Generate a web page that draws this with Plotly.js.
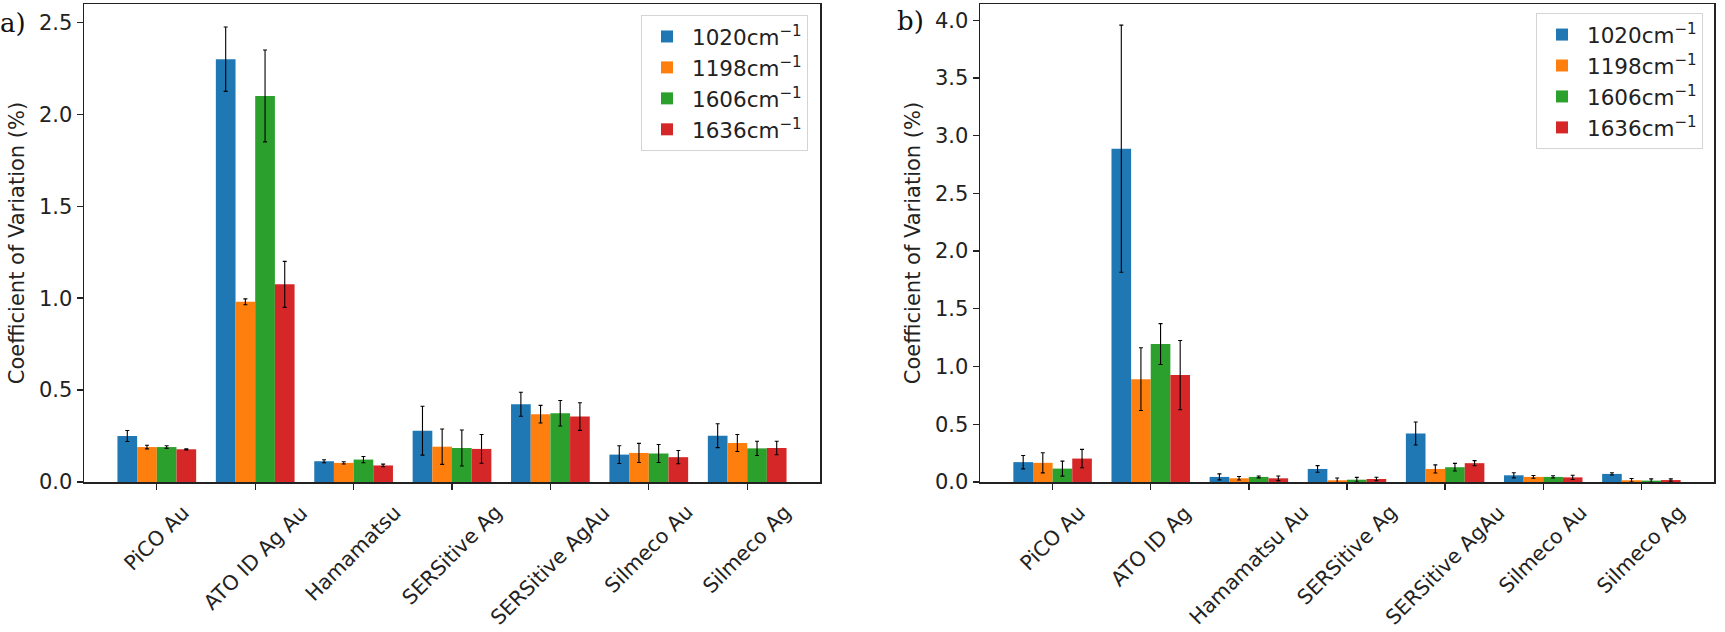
<!DOCTYPE html>
<html>
<head>
<meta charset="utf-8">
<script src="https://cdn.plot.ly/plotly-3.0.1.min.js"></script>
<style>html,body{margin:0;padding:0;background:#fff;}#chart{width:1725px;height:632px;}</style>
</head>
<body>
<div id="chart"></div>
<script>
// Categories
var catsA = ['PiCO Au','ATO ID Ag Au','Hamamatsu','SERSitive Ag','SERSitive AgAu','Silmeco Au','Silmeco Ag'];
var catsB = ['PiCO Au','ATO ID Ag','Hamamatsu Au','SERSitive Ag','SERSitive AgAu','Silmeco Au','Silmeco Ag'];
var seriesNames = ['1020cm<sup>\u22121</sup>','1198cm<sup>\u22121</sup>','1606cm<sup>\u22121</sup>','1636cm<sup>\u22121</sup>'];
var colors = ['#1f77b4','#ff7f0e','#2ca02c','#d62728'];

// Panel a values and errors
var a1020 = [0.25, 2.30, 0.113, 0.279, 0.423, 0.149, 0.252];
var a1020err = [0.03, 0.175, 0.008, 0.133, 0.065, 0.048, 0.065];
var a1198 = [0.19, 0.98, 0.104, 0.192, 0.369, 0.158, 0.212];
var a1198err = [0.01, 0.016, 0.006, 0.096, 0.048, 0.052, 0.046];
var a1606 = [0.19, 2.10, 0.122, 0.185, 0.374, 0.155, 0.183];
var a1606err = [0.007, 0.25, 0.017, 0.098, 0.069, 0.049, 0.039];
var a1636 = [0.178, 1.075, 0.09, 0.18, 0.356, 0.135, 0.185];
var a1636err = [0.003, 0.125, 0.007, 0.078, 0.075, 0.036, 0.037];

// Panel b values and errors
var b1020 = [0.172, 2.887, 0.044, 0.113, 0.42, 0.058, 0.07];
var b1020err = [0.058, 1.07, 0.026, 0.029, 0.1, 0.022, 0.01];
var b1198 = [0.166, 0.891, 0.032, 0.015, 0.113, 0.044, 0.015];
var b1198err = [0.087, 0.272, 0.015, 0.02, 0.035, 0.012, 0.015];
var b1606 = [0.116, 1.195, 0.044, 0.02, 0.128, 0.044, 0.012];
var b1606err = [0.065, 0.177, 0.008, 0.02, 0.033, 0.01, 0.015];
var b1636 = [0.203, 0.926, 0.032, 0.026, 0.163, 0.04, 0.017];
var b1636err = [0.08, 0.3, 0.02, 0.015, 0.022, 0.018, 0.01];

var valsA = [a1020, a1198, a1606, a1636];
var errsA = [a1020err, a1198err, a1606err, a1636err];
var valsB = [b1020, b1198, b1606, b1636];
var errsB = [b1020err, b1198err, b1606err, b1636err];

var FONT = 'DejaVu Sans, sans-serif';
var FS = 21;
var traces = [];
function addPanel(cats, vals, errs, xa, ya, leg) {
  for (var i = 0; i < 4; i++) {
    traces.push({
      type: 'bar', x: cats, y: vals[i], name: seriesNames[i],
      xaxis: xa, yaxis: ya, legend: leg,
      marker: {color: colors[i], line: {width: 0}},
      error_y: {type: 'data', array: errs[i], visible: true, color: '#000', thickness: 1.1, width: 2}
    });
  }
}
addPanel(catsA, valsA, errsA, 'x', 'y', 'legend');
addPanel(catsB, valsB, errsB, 'x2', 'y2', 'legend2');

var axisCommon = {
  showline: true, linecolor: '#222', linewidth: 1.5, mirror: true,
  ticks: 'outside', ticklen: 6, tickwidth: 1.3, tickcolor: '#222',
  showgrid: false, zeroline: false,
  tickfont: {family: FONT, size: FS, color: '#222'}
};
function ax(extra) { return Object.assign({}, axisCommon, extra); }

var annotations = [];
function addLabels(cats, xref) {
  cats.forEach(function (c) {
    annotations.push({
      x: c, xref: xref, y: -0.036, yref: 'paper',
      text: c, showarrow: false, textangle: -45,
      xanchor: 'center', yanchor: 'top', borderpad: 0,
      font: {family: FONT, size: 20.5, color: '#222'}
    });
  });
}
addLabels(catsA, 'x');
addLabels(catsB, 'x2');
annotations.push({x: 0, xref: 'paper', y: 0.995, yref: 'paper', xanchor: 'left', yanchor: 'top',
  text: 'a)', showarrow: false, font: {family: 'DejaVu Serif, serif', size: 26, color: '#111'}, xshift: -2});
annotations.push({x: 0.5188, xref: 'paper', y: 0.999, yref: 'paper', xanchor: 'left', yanchor: 'top',
  text: 'b)', showarrow: false, font: {family: 'DejaVu Serif, serif', size: 26, color: '#111'}});

var legendCommon = {
  bgcolor: 'rgba(255,255,255,0.9)', bordercolor: '#d4d4d4', borderwidth: 1,
  font: {family: FONT, size: 21.5, color: '#222'}, xanchor: 'right', yanchor: 'top',
  itemwidth: 40, tracegroupgap: 0
};

var layout = {
  width: 1725, height: 632,
  margin: {l: 0, r: 0, t: 4, b: 150},
  paper_bgcolor: '#fff', plot_bgcolor: '#fff',
  barmode: 'group', bargap: 0.2, bargroupgap: 0,
  showlegend: true,
  xaxis: ax({domain: [84/1725, 820/1725], range: [-0.74, 6.74], showticklabels: false, anchor: 'y'}),
  yaxis: ax({domain: [0, 1], range: [0, 2.6], tickvals: [0, 0.5, 1.0, 1.5, 2.0, 2.5], ticktext: ['0.0','0.5','1.0','1.5','2.0','2.5'], anchor: 'x',
    title: {text: 'Coefficient of Variation (%)', font: {family: FONT, size: FS, color: '#222'}, standoff: 8}}),
  xaxis2: ax({domain: [980/1725, 1714/1725], range: [-0.74, 6.74], showticklabels: false, anchor: 'y2'}),
  yaxis2: ax({domain: [0, 1], range: [0, 4.14], tickvals: [0, 0.5, 1.0, 1.5, 2.0, 2.5, 3.0, 3.5, 4.0], ticktext: ['0.0','0.5','1.0','1.5','2.0','2.5','3.0','3.5','4.0'], anchor: 'x2',
    title: {text: 'Coefficient of Variation (%)', font: {family: FONT, size: FS, color: '#222'}, standoff: 8}}),
  legend: Object.assign({}, legendCommon, {x: 808/1725, y: 0.977}),
  legend2: Object.assign({}, legendCommon, {x: 1703/1725, y: 0.981}),
  annotations: annotations
};

Plotly.newPlot('chart', traces, layout, {staticPlot: true, displayModeBar: false});
</script>
</body>
</html>
